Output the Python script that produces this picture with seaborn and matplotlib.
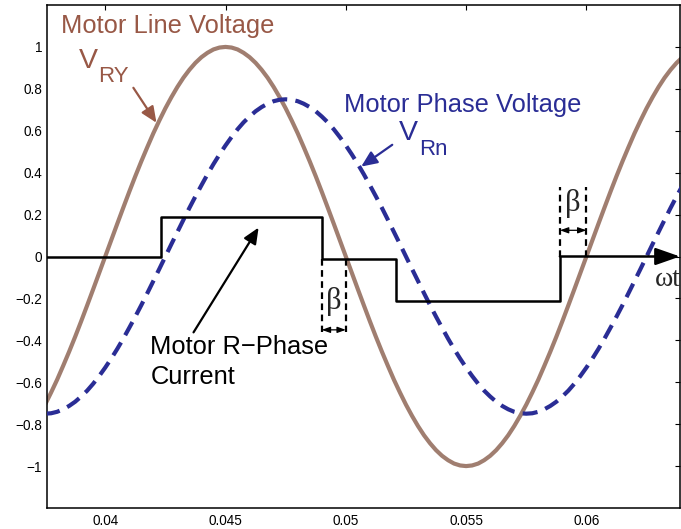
import numpy as np
import pandas as pd
import matplotlib
matplotlib.use("Agg")
import matplotlib.pyplot as plt
import seaborn as sns

# ---- data ----
t = [0.03750, 0.03775, 0.03800, 0.03825, 0.03850, 0.03875, 0.03900, 0.03925, 0.03950, 0.03975,
     0.04000, 0.04025, 0.04050, 0.04075, 0.04100, 0.04125, 0.04150, 0.04175, 0.04200, 0.04225,
     0.04250, 0.04275, 0.04300, 0.04325, 0.04350, 0.04375, 0.04400, 0.04425, 0.04450, 0.04475,
     0.04500, 0.04525, 0.04550, 0.04575, 0.04600, 0.04625, 0.04650, 0.04675, 0.04700, 0.04725,
     0.04750, 0.04775, 0.04800, 0.04825, 0.04850, 0.04875, 0.04900, 0.04925, 0.04950, 0.04975,
     0.05000, 0.05025, 0.05050, 0.05075, 0.05100, 0.05125, 0.05150, 0.05175, 0.05200, 0.05225,
     0.05250, 0.05275, 0.05300, 0.05325, 0.05350, 0.05375, 0.05400, 0.05425, 0.05450, 0.05475,
     0.05500, 0.05525, 0.05550, 0.05575, 0.05600, 0.05625, 0.05650, 0.05675, 0.05700, 0.05725,
     0.05750, 0.05775, 0.05800, 0.05825, 0.05850, 0.05875, 0.05900, 0.05925, 0.05950, 0.05975,
     0.06000, 0.06025, 0.06050, 0.06075, 0.06100, 0.06125, 0.06150, 0.06175, 0.06200, 0.06225,
     0.06250, 0.06275, 0.06300, 0.06325, 0.06350, 0.06375, 0.06400]

v_line = [-0.707, -0.649, -0.588, -0.522, -0.454, -0.383, -0.309, -0.233, -0.156, -0.078,
          0.000, 0.078, 0.156, 0.233, 0.309, 0.383, 0.454, 0.522, 0.588, 0.649,
          0.707, 0.760, 0.809, 0.853, 0.891, 0.924, 0.951, 0.972, 0.988, 0.997,
          1.000, 0.997, 0.988, 0.972, 0.951, 0.924, 0.891, 0.853, 0.809, 0.760,
          0.707, 0.649, 0.588, 0.522, 0.454, 0.383, 0.309, 0.233, 0.156, 0.078,
          0.000, -0.078, -0.156, -0.233, -0.309, -0.383, -0.454, -0.522, -0.588, -0.649,
          -0.707, -0.760, -0.809, -0.853, -0.891, -0.924, -0.951, -0.972, -0.988, -0.997,
          -1.000, -0.997, -0.988, -0.972, -0.951, -0.924, -0.891, -0.853, -0.809, -0.760,
          -0.707, -0.649, -0.588, -0.522, -0.454, -0.383, -0.309, -0.233, -0.156, -0.078,
          0.000, 0.078, 0.156, 0.233, 0.309, 0.383, 0.454, 0.522, 0.588, 0.649,
          0.707, 0.760, 0.809, 0.853, 0.891, 0.924, 0.951]

v_phase = [-0.750, -0.748, -0.741, -0.729, -0.713, -0.693, -0.668, -0.640, -0.607, -0.570,
           -0.530, -0.487, -0.441, -0.392, -0.340, -0.287, -0.232, -0.175, -0.117, -0.059,
           0.000, 0.059, 0.117, 0.175, 0.232, 0.287, 0.340, 0.392, 0.441, 0.487,
           0.530, 0.570, 0.607, 0.640, 0.668, 0.693, 0.713, 0.729, 0.741, 0.748,
           0.750, 0.748, 0.741, 0.729, 0.713, 0.693, 0.668, 0.640, 0.607, 0.570,
           0.530, 0.487, 0.441, 0.392, 0.340, 0.287, 0.232, 0.175, 0.117, 0.059,
           0.000, -0.059, -0.117, -0.175, -0.232, -0.287, -0.340, -0.392, -0.441, -0.487,
           -0.530, -0.570, -0.607, -0.640, -0.668, -0.693, -0.713, -0.729, -0.741, -0.748,
           -0.750, -0.748, -0.741, -0.729, -0.713, -0.693, -0.668, -0.640, -0.607, -0.570,
           -0.530, -0.487, -0.441, -0.392, -0.340, -0.287, -0.232, -0.175, -0.117, -0.059,
           0.000, 0.059, 0.117, 0.175, 0.232, 0.287, 0.340]

i_t = [0.0375, 0.0423, 0.0490, 0.0521, 0.0589]
i_val = [0.0, 0.19, -0.012, -0.21, 0.0]
i_end = 0.06389

beta_start = [0.0490, 0.0589]
beta_end = [0.0500, 0.0600]

x_ticks = [0.04, 0.045, 0.05, 0.055, 0.06]
x_tick_labels = ["0.04", "0.045", "0.05", "0.055", "0.06"]
y_ticks = [-1, -0.8, -0.6, -0.4, -0.2, 0, 0.2, 0.4, 0.6, 0.8, 1]
y_tick_labels = ["\u22121", "\u22120.8", "\u22120.6", "\u22120.4", "\u22120.2", "0",
                 "0.2", "0.4", "0.6", "0.8", "1"]

# ---- style ----
sns.set_style("white")
plt.rcParams["font.family"] = ["Liberation Sans", "DejaVu Sans"]

BROWN_LINE = "#a07e70"
BROWN_TXT = "#985846"
BLUE = "#2a2d95"

fig = plt.figure(figsize=(6.81, 5.29), dpi=100)
ax = fig.add_axes([47 / 681, 21 / 529, 633 / 681, 503 / 529])

df = pd.DataFrame({"t": t, "line": v_line, "phase": v_phase})
sns.lineplot(data=df, x="t", y="line", ax=ax, color=BROWN_LINE, lw=3.0,
             legend=False, zorder=2)
sns.lineplot(data=df, x="t", y="phase", ax=ax, color=BLUE, lw=3.0,
             linestyle=(0, (3.6, 2.0)), legend=False, zorder=3)
dfi = pd.DataFrame({"t": i_t, "i": i_val})
sns.lineplot(data=dfi, x="t", y="i", ax=ax, color="black", lw=1.8,
             drawstyle="steps-post", legend=False, zorder=4)
ax.annotate("", xy=(i_end, i_val[-1]), xytext=(i_t[-1], i_val[-1]),
            arrowprops=dict(arrowstyle="-|>,head_length=1.0,head_width=0.35",
                            mutation_scale=15, lw=1.8, color="black",
                            shrinkA=0, shrinkB=0), zorder=5, annotation_clip=False)

ax.set_xlim(0.03758, 0.06389)
ax.set_ylim(-1.2, 1.2)
ax.set_xticks(x_ticks)
ax.set_xticklabels(x_tick_labels)
ax.set_yticks(y_ticks)
ax.set_yticklabels(y_tick_labels)
ax.tick_params(direction="in", length=3.6, width=0.8, labelsize=9.8,
               top=True, right=True, colors="black")
ax.tick_params(axis="y", pad=3.5)
ax.tick_params(axis="x", pad=4.5)
ax.set_xlabel("")
ax.set_ylabel("")
for s in ax.spines.values():
    s.set_linewidth(1.1)
    s.set_color("black")

# ---- beta annotations ----
beta_low = [(-0.012, -0.36), (0.0, 0.33)]
beta_arrow_y = [-0.35, 0.125]
beta_text_y = [-0.215, 0.255]
for xs, xe, (y0, y1), ya, yt in zip(beta_start, beta_end, beta_low, beta_arrow_y, beta_text_y):
    ax.vlines([xs, xe], y0, y1, colors="black", lw=1.6,
              linestyles=(0, (3.0, 2.0)), zorder=4)
    ax.annotate("", xy=(xe, ya), xytext=(xs, ya),
                arrowprops=dict(arrowstyle="<|-|>,head_length=0.5,head_width=0.18",
                                mutation_scale=10, lw=0.9, color="black",
                                shrinkA=0, shrinkB=0), zorder=5)
    ax.text((xs + xe) / 2, yt, "\u03b2", fontsize=22, family=["Liberation Serif", "DejaVu Serif"],
            ha="center", va="center", zorder=6)

ax.text(0.06285, -0.11, "\u03c9t", fontsize=20, family=["Liberation Serif", "DejaVu Serif"],
        ha="left", va="center", clip_on=False)

# ---- labels ----
ax.text(0.038167, 1.067, "Motor Line Voltage", fontsize=18.4, color=BROWN_TXT,
        ha="left", va="baseline")
ax.text(0.038917, 0.90, "V", fontsize=20.5, color=BROWN_TXT, ha="left", va="baseline")
ax.text(0.039708, 0.833, "RY", fontsize=16, color=BROWN_TXT, ha="left", va="baseline")
ax.annotate("", xy=(0.04213, 0.638), xytext=(0.04117, 0.805),
            arrowprops=dict(arrowstyle="-|>,head_length=0.8,head_width=0.35",
                            mutation_scale=12, lw=1.6, color=BROWN_TXT,
                            shrinkA=0, shrinkB=0))

ax.text(0.04993, 0.69, "Motor Phase Voltage", fontsize=18.4, color=BLUE,
        ha="left", va="baseline")
ax.text(0.05222, 0.557, "V", fontsize=20.5, color=BLUE, ha="left", va="baseline")
ax.text(0.05304, 0.486, "Rn", fontsize=16, color=BLUE, ha="left", va="baseline")
ax.annotate("", xy=(0.05064, 0.429), xytext=(0.05193, 0.533),
            arrowprops=dict(arrowstyle="-|>,head_length=0.8,head_width=0.35",
                            mutation_scale=12, lw=1.6, color=BLUE,
                            shrinkA=0, shrinkB=0))

ax.text(0.04188, -0.467, "Motor R\u2212Phase", fontsize=18.4, color="black",
        ha="left", va="baseline")
ax.text(0.04188, -0.610, "Current", fontsize=18.4, color="black",
        ha="left", va="baseline")
ax.annotate("", xy=(0.046375, 0.138), xytext=(0.04367, -0.362),
            arrowprops=dict(arrowstyle="-|>,head_length=0.8,head_width=0.35",
                            mutation_scale=12, lw=1.6, color="black",
                            shrinkA=0, shrinkB=0))

fig.savefig("out.png", dpi=100)
